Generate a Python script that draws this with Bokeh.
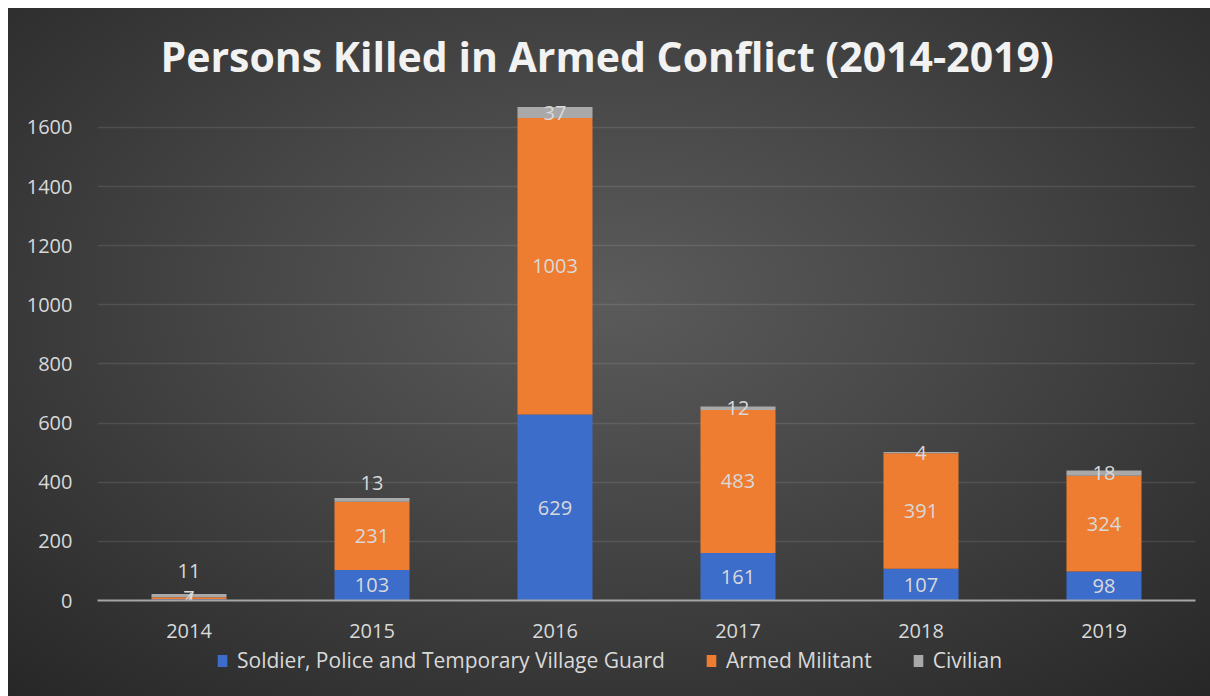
from bokeh.plotting import figure
from bokeh.layouts import column
from bokeh.models import FactorRange, Range1d, FixedTicker, ColumnDataSource, Legend, LegendItem
from bokeh.core.properties import value
from bokeh.embed import file_html
from bokeh.resources import INLINE

years = ["2014", "2015", "2016", "2017", "2018", "2019"]
soldier = [4, 103, 629, 161, 107, 98]
militant = [7, 231, 1003, 483, 391, 324]
civilian = [11, 13, 37, 12, 4, 18]
series_names = ["Soldier, Police and Temporary Village Guard", "Armed Militant", "Civilian"]
y_ticks = [0, 200, 400, 600, 800, 1000, 1200, 1400, 1600]

# label nudges (pixels, negative = up) for crowded labels
civ_nudge = [-25, -17, 0, 0, 0, 0]

FONT = "Open Sans"
TXT = "#d9d9d9"
colors = ["#3d6dca", "#ee7d31", "#a9a9a9"]

common = dict(output_backend="svg", toolbar_location=None,
              background_fill_color=None, border_fill_color=None, outline_line_color=None)

p = figure(x_range=FactorRange(*years, range_padding=0), y_range=Range1d(0, 1708),
           width=1202, height=636,
           min_border_left=89, min_border_right=15, min_border_top=87, min_border_bottom=44,
           **common)

p.title.text = "Persons Killed in Armed Conflict (2014-2019)"
p.title.align = "left"
p.title.offset = 63
p.title.text_font = FONT
p.title.text_font_style = "bold"
p.title.text_font_size = "41px"
p.title.text_color = "#f2f2f2"
p.title.standoff = 24

src = ColumnDataSource(dict(year=years, s=soldier, m=militant, c=civilian))
renderers = p.vbar_stack(["s", "m", "c"], x="year", width=0.41, source=src,
                         color=colors, line_color=None)

# data labels
sy = [v / 2 for v in soldier]
my = [s + v / 2 for s, v in zip(soldier, militant)]
cy = [s + m + v / 2 for s, m, v in zip(soldier, militant, civilian)]
lab = ColumnDataSource(dict(
    x=years * 3,
    y=sy + my + cy,
    t=[str(v) for v in soldier + militant + civilian],
    off=[0] * 6 + [0] * 6 + civ_nudge,
))
p.text(x="x", y="y", text="t", source=lab, y_offset="off",
       text_align="center", text_baseline="middle",
       text_font=value(FONT), text_font_size="20px", text_color=TXT)

# axes
p.yaxis.ticker = FixedTicker(ticks=y_ticks)
p.yaxis.axis_line_color = None
p.yaxis.major_tick_line_color = None
p.yaxis.minor_tick_line_color = None
p.yaxis.major_label_text_font = FONT
p.yaxis.major_label_text_font_size = "20px"
p.yaxis.major_label_text_color = TXT
p.yaxis.major_label_standoff = 19

p.xaxis.axis_line_color = "#a6a6a6"
p.xaxis.axis_line_width = 2
p.xaxis.major_tick_line_color = None
p.xaxis.minor_tick_line_color = None
p.xaxis.major_label_text_font = FONT
p.xaxis.major_label_text_font_size = "20px"
p.xaxis.major_label_text_color = TXT
p.xaxis.major_label_standoff = 17

p.xgrid.grid_line_color = None
p.ygrid.grid_line_color = "white"
p.ygrid.grid_line_alpha = 0.1
p.ygrid.grid_line_width = 1.5

# legend strip: legend-only figure, proxy glyphs sit outside its visible range
pl = figure(width=1202, height=52, x_range=Range1d(0, 1), y_range=Range1d(0, 1),
            x_axis_location=None, y_axis_location=None, min_border=0, **common)
pl.grid.visible = False
proxy_src = ColumnDataSource(dict(x=[-10], y=[-10]))
proxies = [pl.rect(x="x", y="y", width=1, height=1, source=proxy_src, color=c, line_color=None)
           for c in colors]
legend = Legend(items=[LegendItem(label=n, renderers=[r]) for n, r in zip(series_names, proxies)],
                orientation="horizontal", location=(119, 22),
                background_fill_alpha=0, border_line_color=None,
                label_text_font=FONT, label_text_font_size="21px", label_text_color=TXT,
                glyph_width=12, glyph_height=15, label_standoff=9, spacing=40,
                padding=0, margin=0)
pl.add_layout(legend, "center")

layout = column(p, pl, spacing=0, margin=(8, 0, 0, 8),
                styles={"background": "radial-gradient(ellipse 75% 80% at 50% 42%, #5b5b5b 0%, #474747 40%, #262626 100%)"})

open("out.html", "w").write(file_html(layout, INLINE))
